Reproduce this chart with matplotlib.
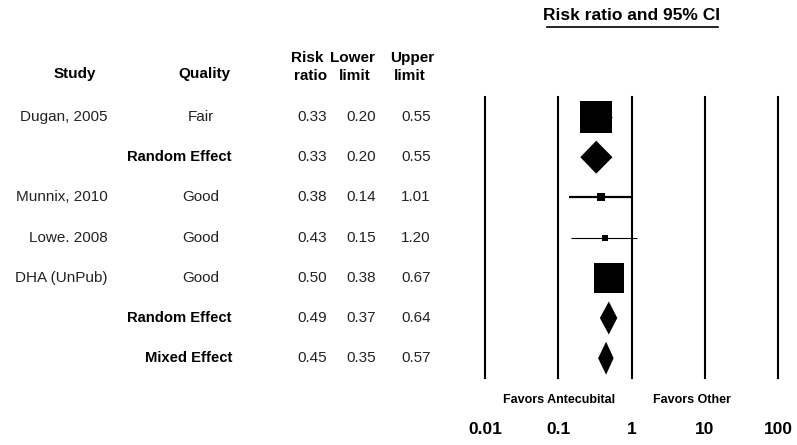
import matplotlib.pyplot as plt
from matplotlib.lines import Line2D

plt.rcParams['font.family'] = ['Liberation Sans', 'DejaVu Sans']

studies = ["Dugan, 2005", "", "Munnix, 2010", "Lowe. 2008", "DHA (UnPub)", "", ""]
quality = ["Fair", "Random Effect", "Good", "Good", "Good", "Random Effect", "Mixed Effect"]
risk_ratio = [0.33, 0.33, 0.38, 0.43, 0.50, 0.49, 0.45]
lower = [0.20, 0.20, 0.14, 0.15, 0.38, 0.37, 0.35]
upper = [0.55, 0.55, 1.01, 1.20, 0.67, 0.64, 0.57]
pooled = [False, True, False, False, False, True, True]
ticks = [0.01, 0.1, 1, 10, 100]
tick_labels = ["0.01", "0.1", "1", "10", "100"]

# box side (points) and CI line width for each study row
box_pt = [23.6, 0, 5.8, 5.0, 20.9, 0, 0]
ci_lw = [0.8, 0, 1.6, 0.8, 0.8, 0, 0]

W, H = 797, 445
fig = plt.figure(figsize=(W / 100, H / 100), dpi=100)

# pixel-based layer for the table text
tab = fig.add_axes([0, 0, 1, 1])
tab.set_xlim(0, W)
tab.set_ylim(H, 0)
tab.axis('off')

row_y0, row_dy = 117, 40.2
hdr = dict(fontsize=11, fontweight='bold', ha='center', va='center')
tab.text(75, 74, "Study", **hdr)
tab.text(204, 74, "Quality", **hdr)
tab.text(307, 58, "Risk", **hdr)
tab.text(311, 76, "ratio", **hdr)
tab.text(352, 58, "Lower", **hdr)
tab.text(355, 76, "limit", **hdr)
tab.text(412, 58, "Upper", **hdr)
tab.text(410, 76, "limit", **hdr)

for i in range(len(quality)):
    y = row_y0 + row_dy * i
    if studies[i]:
        tab.text(108, y, studies[i], fontsize=11, ha='right', va='center', color='#222222')
    if pooled[i]:
        tab.text(232, y, quality[i], fontsize=10.6, fontweight='bold', ha='right', va='center')
    else:
        tab.text(201, y, quality[i], fontsize=11, ha='center', va='center', color='#222222')
    for x, v in zip([312, 361, 416], [risk_ratio[i], lower[i], upper[i]]):
        tab.text(x, y, f"{v:.2f}", fontsize=11, ha='center', va='center', color='#222222')

# title with underline
tab.text(632, 16, "Risk ratio and 95% CI", fontsize=12.5, fontweight='bold',
         ha='center', va='center')
tab.add_line(Line2D([547, 718], [27, 27], color='black', lw=1.2))

# forest panel on a log scale
x0, x1 = 485, 778
y_top, y_bot = 97, 378
ax = fig.add_axes([x0 / W, 1 - y_bot / H, (x1 - x0) / W, (y_bot - y_top) / H])
ax.set_xscale('log')
ax.set_xlim(0.01, 100)
n = len(quality)
top_idx = (y_top - row_y0) / row_dy
bot_idx = (y_bot - row_y0) / row_dy
ax.set_ylim(bot_idx, top_idx)
ax.axis('off')

for t in ticks:
    ax.axvline(t, color='black', lw=1.5, clip_on=False)

half_h = 16.5 / row_dy
for i in range(n):
    if pooled[i]:
        xs = [lower[i], risk_ratio[i], upper[i], risk_ratio[i]]
        ys = [i, i - half_h, i, i + half_h]
        ax.fill(xs, ys, color='black', lw=0)
    else:
        ax.hlines(i, lower[i], upper[i], color='black', lw=ci_lw[i])
        ax.plot(risk_ratio[i], i, marker='s', ms=box_pt[i], color='black',
                markeredgewidth=0)

for k, lab in enumerate(tick_labels):
    tab.text(x0 + (x1 - x0) * k / (len(ticks) - 1), 429, lab,
             fontsize=12.5, fontweight='bold', ha='center', va='center')

tab.text(559, 400, "Favors Antecubital", fontsize=9, fontweight='bold', ha='center', va='center')
tab.text(692, 400, "Favors Other", fontsize=9, fontweight='bold', ha='center', va='center')

fig.savefig("out.png", dpi=100)
